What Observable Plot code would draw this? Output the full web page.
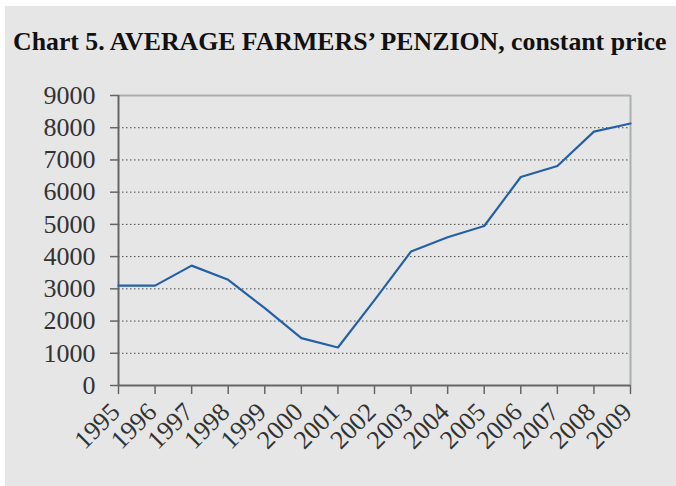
<!DOCTYPE html>
<html>
<head>
<meta charset="utf-8">
<script src="https://cdn.jsdelivr.net/npm/d3@7"></script>
<script src="https://cdn.jsdelivr.net/npm/@observablehq/plot@0.6"></script>
<style>
  html, body { margin: 0; padding: 0; background: #ffffff; width: 676px; height: 486px; overflow: hidden; }
  #wrap { position: absolute; left: 5px; top: 6px; width: 671px; height: 480px; background: #e6e6e6; }
  #title { position: absolute; left: 8px; top: 21px; font-family: "Liberation Serif", serif; font-weight: bold; font-size: 25.8px; line-height: 30px; color: #111; white-space: nowrap; }
  #chart { position: absolute; left: 0; top: 50px; }
</style>
</head>
<body>
<div id="wrap">
  <div id="title">Chart 5. AVERAGE FARMERS’ PENZION, constant price</div>
  <div id="chart"></div>
</div>
<script>
const years = [1995, 1996, 1997, 1998, 1999, 2000, 2001, 2002, 2003, 2004, 2005, 2006, 2007, 2008, 2009];
const pension = [3100, 3100, 3720, 3280, 2400, 1470, 1180, 2650, 4160, 4600, 4950, 6470, 6810, 7880, 8130];
const yTicks = [0, 1000, 2000, 3000, 4000, 5000, 6000, 7000, 8000, 9000];
const gridValues = [1000, 2000, 3000, 4000, 5000, 6000, 7000, 8000];

const data = years.map((y, i) => ({year: y, value: pension[i]}));

const chart = Plot.plot({
  width: 671,
  height: 430,
  marginLeft: 113,
  marginRight: 46,
  marginTop: 39,
  marginBottom: 101,
  style: { fontFamily: "Liberation Serif, serif", fontSize: "26px", background: "transparent", color: "#333" },
  x: { type: "linear", domain: [1995, 2009] },
  y: { domain: [0, 9000] },
  marks: [
    Plot.ruleY(gridValues, { stroke: "#4a4a4a", strokeWidth: 1, strokeDasharray: "1.5,2.5" }),
    Plot.ruleY([9000], { stroke: "#a9b0ae", strokeWidth: 2 }),
    Plot.ruleX([2009], { stroke: "#a9b0ae", strokeWidth: 2 }),
    Plot.axisY({ ticks: yTicks, tickSize: 8, tickPadding: 15, tickFormat: d => String(d), stroke: "#666", strokeWidth: 1.5, fill: "#333", label: null }),
    Plot.axisX({ ticks: years, tickSize: 9, tickFormat: () => "", stroke: "#666", strokeWidth: 1.5, label: null }),
    Plot.ruleX([1995], { stroke: "#666", strokeWidth: 2 }),
    Plot.ruleY([0], { stroke: "#666", strokeWidth: 2 }),
    Plot.line(data, { x: "year", y: "value", stroke: "#2560a6", strokeWidth: 2.2 }),
    Plot.text(years, { x: d => d, frameAnchor: "bottom", text: d => String(d), rotate: -45, textAnchor: "end", lineAnchor: "bottom", dx: 3, dy: 28, fill: "#333", fontSize: 26 })
  ]
});
document.getElementById("chart").appendChild(chart);
</script>
</body>
</html>
